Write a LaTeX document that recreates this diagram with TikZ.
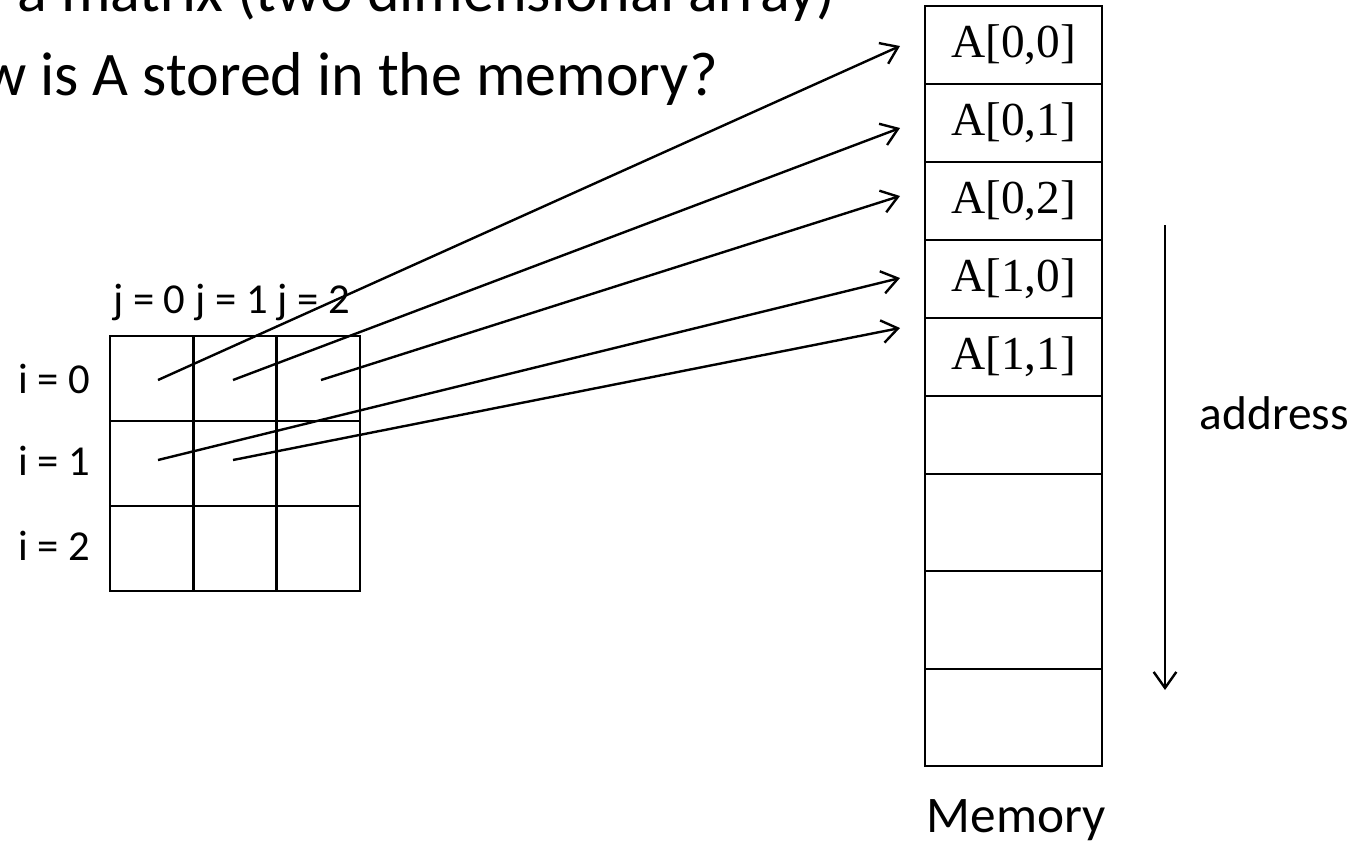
\documentclass[tikz,border=0pt]{standalone}
\usepackage{fontspec}
\setmainfont{Carlito}
\newfontfamily\timesf{Liberation Serif}
\usetikzlibrary{arrows.meta}
\begin{document}
\begin{tikzpicture}[x=0.75pt,y=-0.75pt,
  memcell/.style={draw, line width=2pt, minimum width=132.75pt, inner sep=0pt, outer sep=0pt, anchor=north west, font=\timesf\fontsize{35.5}{42}\selectfont},
  gcell/.style={draw, line width=2pt, minimum width=62.5pt, minimum height=63.75pt, inner sep=0pt, outer sep=0pt, anchor=north west},
  conn/.style={line width=1.8pt, -{Straight Barb[length=12pt,width=17pt]}},
  title/.style={font=\fontsize{46.5}{54}\selectfont, inner sep=0pt},
  lbl/.style={font=\fontsize{32}{38}\selectfont, inner sep=0pt},
  big/.style={font=\fontsize{38.5}{46}\selectfont, inner sep=0pt},
  side/.style={font=\fontsize{35.5}{42}\selectfont, inner sep=0pt}]
\useasboundingbox (0,0) rectangle (1358,847);
\clip (0,0) rectangle (1358,847);
% title lines (cut by the frame, as in the picture)
\node[title, anchor=base east] (t1) at (836,11) {a matrix (two dimensional array)};
\node[title, anchor=base east] (t2) at (718,95) {w is A stored in the memory?};
% grid
\node[gcell] (g00) at (110,336) {};
\node[gcell] (g01) at (193.33,336) {};
\node[gcell] (g02) at (276.67,336) {};
\node[gcell] (g10) at (110,421) {};
\node[gcell] (g11) at (193.33,421) {};
\node[gcell] (g12) at (276.67,421) {};
\node[gcell] (g20) at (110,506) {};
\node[gcell] (g21) at (193.33,506) {};
\node[gcell] (g22) at (276.67,506) {};
\node[lbl, anchor=base west] (jl) at (113,313) {j = 0 j = 1 j = 2};
\node[lbl, anchor=base west] (i0) at (18,393) {i = 0};
\node[lbl, anchor=base west] (i1) at (18,475) {i = 1};
\node[lbl, anchor=base west] (i2) at (18,560) {i = 2};
% memory
\node[memcell, minimum height=58.5pt] (m1) at (925,6) {A[0,0]};
\node[memcell, minimum height=58.5pt] (m2) at (925,84) {A[0,1]};
\node[memcell, minimum height=58.5pt] (m3) at (925,162) {A[0,2]};
\node[memcell, minimum height=58.5pt] (m4) at (925,240) {A[1,0]};
\node[memcell, minimum height=58.5pt] (m5) at (925,318) {A[1,1]};
\node[memcell, minimum height=58.5pt] (m6) at (925,396) {};
\node[memcell, minimum height=72.75pt] (m7) at (925,474) {};
\node[memcell, minimum height=73.5pt] (m8) at (925,571) {};
\node[memcell, minimum height=72.75pt] (m9) at (925,669) {};
\node[big, anchor=base] (mem) at (1016,832) {Memory};
\node[side, anchor=base east] (addr) at (1349,429) {address};
% connector ends
\coordinate (s1) at (158,380);
\coordinate (s2) at (233,380);
\coordinate (s3) at (321,380);
\coordinate (s4) at (158,460);
\coordinate (s5) at (233,460);
\coordinate (e1) at (900,46);
\coordinate (e2) at (900,128);
\coordinate (e3) at (900,196);
\coordinate (e4) at (900,278);
\coordinate (e5) at (900,328);
\draw[conn] (s1) -- (e1);
\draw[conn] (s2) -- (e2);
\draw[conn] (s3) -- (e3);
\draw[conn] (s4) -- (e4);
\draw[conn] (s5) -- (e5);
\coordinate (a1) at (1165,225);
\coordinate (a2) at (1165,690);
\draw[conn] (a1) -- (a2);
\end{tikzpicture}
\end{document}
